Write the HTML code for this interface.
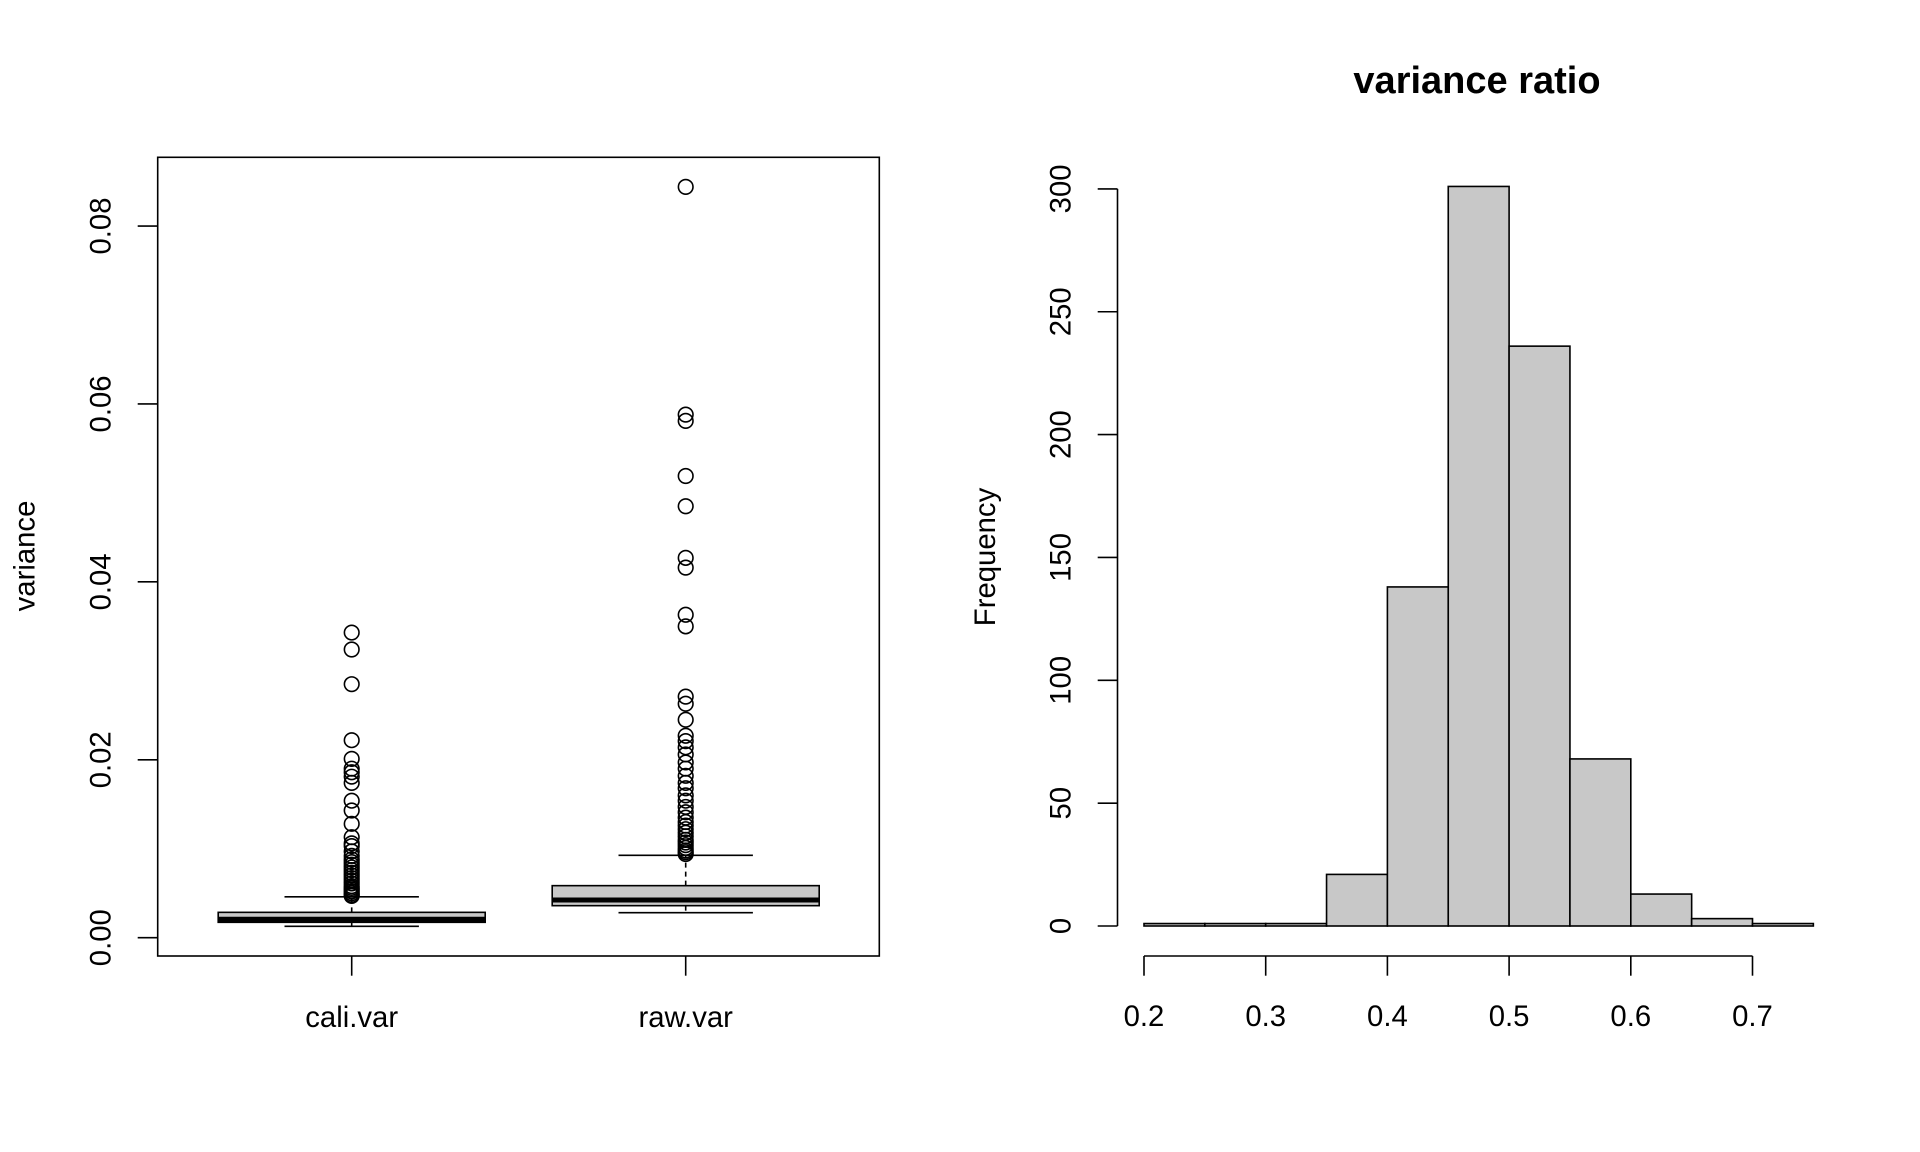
<!DOCTYPE html>
<html><head><meta charset="utf-8"><style>
html,body{margin:0;padding:0;background:#fff;}
svg{display:block;}
text{font-family:"Liberation Sans",Arial,sans-serif;fill:#000;}
</style></head><body>
<svg id="chart" width="1920" height="1152" viewBox="0 0 1920 1152" xmlns="http://www.w3.org/2000/svg"></svg>
<script>
// ---- Boxplot data ----
const boxCategories = ["cali.var", "raw.var"];
const boxQ1 = [0.00173, 0.00360];
const boxMedian = [0.00207, 0.00424];
const boxQ3 = [0.00285, 0.00585];
const boxLowWhisker = [0.00128, 0.00281];
const boxHighWhisker = [0.00460, 0.00926];
const caliOutliers = [0.0343,0.0324,0.0285,0.0222,0.0201,0.019,0.0186,0.0181,0.0174,0.0154,0.0143,0.0128,0.0113,0.0106,0.0103,0.0097,0.0092,0.0088,0.0085,0.0082,0.0079,0.0076,0.0073,0.0070,0.0067,0.0064,0.0061,0.0058,0.0056,0.0054,0.0052,0.0050,0.0048,0.0047];
const rawOutliers = [0.0844,0.0588,0.0581,0.0519,0.0485,0.0427,0.0416,0.0363,0.035,0.0271,0.0263,0.0245,0.0227,0.0221,0.0214,0.0206,0.0197,0.019,0.0182,0.0174,0.0168,0.016,0.0154,0.0147,0.0141,0.0135,0.013,0.0126,0.0122,0.0118,0.0114,0.011,0.0107,0.0104,0.0101,0.0098,0.0096,0.0094];
const boxYTicks = [0, 0.02, 0.04, 0.06, 0.08];
const boxYTickLabels = ["0.00", "0.02", "0.04", "0.06", "0.08"];
// ---- Histogram data ----
const histBreaks = [0.2,0.25,0.3,0.35,0.4,0.45,0.5,0.55,0.6,0.65,0.7,0.75];
const histCounts = [1,1,1,21,138,301,236,68,13,3,1];
const histXTicks = [0.2,0.3,0.4,0.5,0.6,0.7];
const histXTickLabels = ["0.2","0.3","0.4","0.5","0.6","0.7"];
const histYTicks = [0,50,100,150,200,250,300];
const histYTickLabels = ["0","50","100","150","200","250","300"];

const svg = document.getElementById('chart');
const NS = "http://www.w3.org/2000/svg";
function mk(tag, attrs, parent){const e=document.createElementNS(NS,tag);for(const k in attrs)e.setAttribute(k,attrs[k]);(parent||svg).appendChild(e);return e;}
const FS = 29.3, LW = 1.6;

// ---- Boxplot ----
const by = v => 937.7 - v * 8896;
const bx = i => [351.7, 685.7][i];
const boxHalf = 133.5, capHalf = 67.2;

const frame = mk('rect',{x:157.7,y:157.3,width:721.6,height:798.7,fill:'none',stroke:'#000','stroke-width':LW});



boxYTicks.forEach((t,i)=>{
  const l = mk('line',{x1:137.7,x2:157.7,y1:by(t),y2:by(t),stroke:'#000','stroke-width':LW});
  
  
  const tx = mk('text',{x:0,y:0,'font-size':FS,'text-anchor':'middle',transform:`translate(110.5,${by(t)}) rotate(-90)`});
  tx.textContent = boxYTickLabels[i];
  
  
});
const yl = mk('text',{x:0,y:0,'font-size':FS,'text-anchor':'middle',transform:'translate(34.5,556) rotate(-90)'});
yl.textContent='variance';



boxCategories.forEach((c,i)=>{
  const x = bx(i);
  const t = mk('line',{x1:x,x2:x,y1:956,y2:975.7,stroke:'#000','stroke-width':LW});
  
  
  const lab = mk('text',{x:x,y:1027,'font-size':FS,'text-anchor':'middle'});
  lab.textContent = c;
  
  
  const g = mk('g',{});
  
  
  mk('line',{x1:x,x2:x,y1:by(boxQ3[i]),y2:by(boxHighWhisker[i]),stroke:'#000','stroke-width':LW,'stroke-dasharray':'5,4'},g);
  mk('line',{x1:x,x2:x,y1:by(boxQ1[i]),y2:by(boxLowWhisker[i]),stroke:'#000','stroke-width':LW,'stroke-dasharray':'5,4'},g);
  mk('line',{x1:x-capHalf,x2:x+capHalf,y1:by(boxHighWhisker[i]),y2:by(boxHighWhisker[i]),stroke:'#000','stroke-width':LW},g);
  mk('line',{x1:x-capHalf,x2:x+capHalf,y1:by(boxLowWhisker[i]),y2:by(boxLowWhisker[i]),stroke:'#000','stroke-width':LW},g);
  mk('rect',{x:x-boxHalf,y:by(boxQ3[i]),width:2*boxHalf,height:by(boxQ1[i])-by(boxQ3[i]),fill:'#c8c8c8',stroke:'#000','stroke-width':LW},g);
  mk('line',{x1:x-boxHalf,x2:x+boxHalf,y1:by(boxMedian[i]),y2:by(boxMedian[i]),stroke:'#000','stroke-width':5},g);
  const outs = i===0 ? caliOutliers : rawOutliers;
  outs.forEach(v=>{
    const c2 = mk('circle',{cx:x,cy:by(v),r:7.3,fill:'none',stroke:'#000','stroke-width':LW});
    
    
  });
});

// ---- Histogram ----
const hx = v => 1144 + (v - 0.2) * 1217;
const hy = v => 926 - v * 2.457;
histCounts.forEach((c,i)=>{
  const r = mk('rect',{x:hx(histBreaks[i]),y:hy(c),width:hx(histBreaks[i+1])-hx(histBreaks[i]),height:hy(0)-hy(c),fill:'#c8c8c8',stroke:'#000','stroke-width':LW});
  
  
});
const xa = mk('line',{x1:hx(histXTicks[0]),x2:hx(histXTicks[histXTicks.length-1]),y1:956,y2:956,stroke:'#000','stroke-width':LW});


histXTicks.forEach((t,i)=>{
  const l = mk('line',{x1:hx(t),x2:hx(t),y1:956,y2:975.7,stroke:'#000','stroke-width':LW});
  
  
  const tx = mk('text',{x:hx(t),y:1026,'font-size':FS,'text-anchor':'middle'});
  tx.textContent = histXTickLabels[i];
  
  
});
const ya = mk('line',{x1:1117.5,x2:1117.5,y1:hy(histYTicks[0]),y2:hy(histYTicks[histYTicks.length-1]),stroke:'#000','stroke-width':LW});


histYTicks.forEach((t,i)=>{
  const l = mk('line',{x1:1097.7,x2:1117.5,y1:hy(t),y2:hy(t),stroke:'#000','stroke-width':LW});
  
  
  const tx = mk('text',{x:0,y:0,'font-size':FS,'text-anchor':'middle',transform:`translate(1070.5,${hy(t)}) rotate(-90)`});
  tx.textContent = histYTickLabels[i];
  
  
});
const fl = mk('text',{x:0,y:0,'font-size':FS,'text-anchor':'middle',transform:'translate(995,557) rotate(-90)'});
fl.textContent='Frequency';


const title = mk('text',{x:1477,y:93,'font-size':38,'font-weight':'bold','text-anchor':'middle'});
title.textContent='variance ratio';


</script>
</body></html>
